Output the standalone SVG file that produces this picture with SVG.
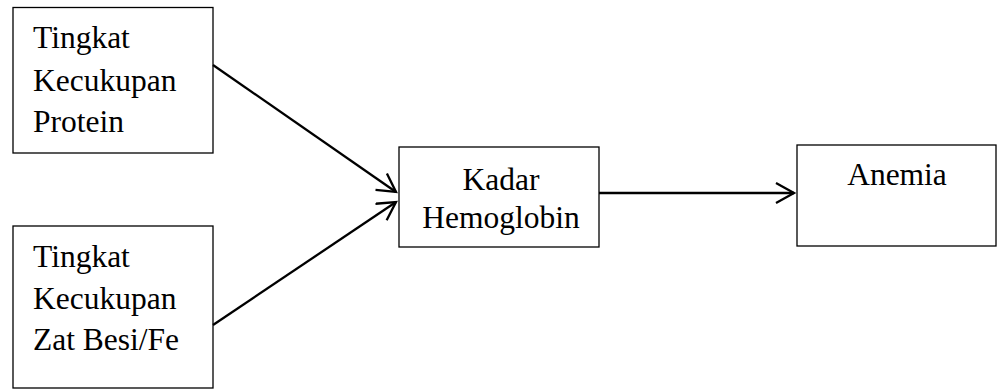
<svg xmlns="http://www.w3.org/2000/svg" width="998" height="390" viewBox="0 0 998 390">
  <style>
    .box { fill: #ffffff; stroke: #000000; stroke-width: 1.3; }
    .lbl { font-family: "Liberation Serif", "Times New Roman", serif; font-size: 31.5px; fill: #000000; }
    .mid { text-anchor: middle; }
    .edge { fill: none; stroke: #000000; stroke-width: 2.3; }
  </style>
  <defs>
    <marker id="open-arrow" markerUnits="userSpaceOnUse" markerWidth="24" markerHeight="24" refX="19" refY="11" orient="auto">
      <path d="M1,1 L19,11 L1,21" fill="none" stroke="#000000" stroke-width="2.3"/>
    </marker>
  </defs>
  <rect width="998" height="390" fill="#ffffff"/>

  <g id="node-protein">
    <rect class="box" x="13" y="7.5" width="200" height="145.5"/>
    <text class="lbl" x="33" y="48">Tingkat</text>
    <text class="lbl" x="33" y="91">Kecukupan</text>
    <text class="lbl" x="33" y="132">Protein</text>
  </g>

  <g id="node-fe">
    <rect class="box" x="13" y="226" width="200" height="162"/>
    <text class="lbl" x="33" y="267">Tingkat</text>
    <text class="lbl" x="33" y="309">Kecukupan</text>
    <text class="lbl" x="33" y="350">Zat Besi/Fe</text>
  </g>

  <g id="node-hb">
    <rect class="box" x="399" y="147" width="200" height="100"/>
    <text class="lbl mid" x="501" y="190">Kadar</text>
    <text class="lbl mid" x="501" y="228">Hemoglobin</text>
  </g>

  <g id="node-anemia">
    <rect class="box" x="797" y="145" width="199" height="101"/>
    <text class="lbl mid" x="897" y="185">Anemia</text>
  </g>

  <g id="connectors">
    <line class="edge" x1="213" y1="65" x2="396" y2="192" marker-end="url(#open-arrow)"/>
    <line class="edge" x1="213" y1="325" x2="396" y2="202" marker-end="url(#open-arrow)"/>
    <line class="edge" x1="599" y1="193" x2="794" y2="193" marker-end="url(#open-arrow)"/>
  </g>
</svg>
